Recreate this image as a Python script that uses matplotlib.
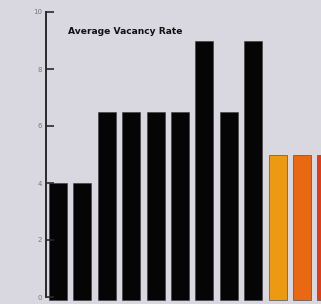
import matplotlib.pyplot as plt

# average vacancy rate per bar (last one cropped in the reference)
values = [4, 4, 6.5, 6.5, 6.5, 6.5, 9, 6.5, 9, 5, 5, 5]
colors = ["#050505"] * 9 + ["#eb9a12", "#e8690f", "#d9401a"]
yticks = [0, 2, 4, 6, 8, 10]
title = "Average Vacancy Rate"

fig = plt.figure(figsize=(3.21, 3.04), dpi=100, facecolor="#d9d8e0")
ax = fig.add_axes([46 / 321, 7 / 304, 275 / 321, 285 / 304])
ax.set_facecolor("#d9d8e0")

# bars run a little below the baseline, as in the print
base = -0.12
x = list(range(len(values)))
ax.bar(x, [v - base for v in values], width=0.74, bottom=base, color=colors,
       edgecolor="#3a3a3a", linewidth=0.4, clip_on=False)

ax.set_xlim(-0.49, 10.78)
ax.set_ylim(0, 10)

ax.set_yticks(yticks)
ax.set_yticklabels([str(t) for t in yticks], fontsize=5, color="#777777")
ax.tick_params(axis="y", direction="in", length=6, width=1.2, color="#2a2a2a", pad=3)
ax.set_xticks([])

for s in ["top", "right", "bottom"]:
    ax.spines[s].set_visible(False)
ax.spines["left"].set_color("#2a2a2a")
ax.spines["left"].set_linewidth(1.4)

ax.text(0.41, 9.3, title, fontsize=6.6, fontweight="heavy", color="#111111",
        va="center", ha="left")

fig.savefig("out.png", dpi=100, facecolor=fig.get_facecolor())
